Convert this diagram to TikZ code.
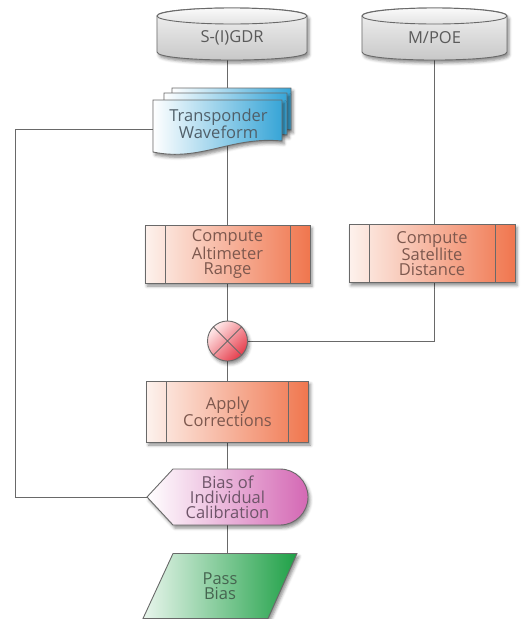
\documentclass[tikz,border=0pt]{standalone}
\usepackage{fontspec}
\setmainfont{Open Sans}
\usetikzlibrary{shapes.geometric,shadows.blur}
\pgfdeclarelayer{lines}
\pgfdeclarelayer{shapes}
\pgfsetlayers{lines,shapes,main}
\definecolor{lineg}{RGB}{105,105,105}
\definecolor{txtg}{RGB}{90,90,90}
\definecolor{txtw}{RGB}{80,95,105}
\definecolor{txtp}{RGB}{110,85,105}
\definecolor{txtgr}{RGB}{70,100,80}
\definecolor{txtb}{RGB}{125,88,78}
\definecolor{orng}{RGB}{240,118,78}
\definecolor{orngl}{RGB}{253,242,237}
\definecolor{blu}{RGB}{55,165,215}
\definecolor{pnk}{RGB}{212,104,180}
\definecolor{grn}{RGB}{30,160,70}
\definecolor{redc}{RGB}{230,60,75}
\tikzset{
  lbl/.style={align=center, text=txtg, inner sep=0pt, font=\fontsize{16.5}{15}\selectfont},
  shd/.style={blur shadow={shadow xshift=2pt, shadow yshift=-3pt, shadow blur radius=3pt, shadow opacity=45}},
  outl/.style={draw=lineg, line width=0.9pt},
  conn/.style={draw=lineg, line width=1pt},
  cyl/.style={outl, shd, top color=gray!8, bottom color=gray!45},
  procbox/.style={rectangle, outl, shd, left color=orngl, right color=orng,
    minimum height=58pt, align=center, text=txtb, inner sep=0pt,
    font=\fontsize{16.5}{15}\selectfont,
    path picture={
      \draw[lineg, line width=0.8pt] ([xshift=20pt]path picture bounding box.north west) -- ([xshift=20pt]path picture bounding box.south west);
      \draw[lineg, line width=0.8pt] ([xshift=-20pt]path picture bounding box.north east) -- ([xshift=-20pt]path picture bounding box.south east);
    }},
  docpage/.style={outl, left color=white, right color=blu},
}
\begin{document}
\begin{tikzpicture}[x=1pt, y=-1pt]
\useasboundingbox (0,0) rectangle (521,619);

% ---- nodes ----
\node[lbl, minimum width=150pt, minimum height=44pt] (sgdr) at (232,38) {S-(I)GDR};
\node[lbl, minimum width=145pt, minimum height=44pt] (mpoe) at (434.5,38) {M/POE};
\node[lbl, text=txtw, minimum width=129pt, minimum height=52pt] (wave) at (218.5,124) {Transponder\\Waveform};
\node[procbox, minimum width=165pt] (alt) at (227.5,254) {Compute\\Altimeter\\Range};
\node[procbox, minimum width=166pt] (sat) at (432,253.5) {Compute\\Satellite\\Distance};
\node[circle, outl, shd, minimum size=40pt, inner sep=0pt,
      top color=red!8, bottom color=redc, shading angle=45] (sum) at (227.5,341) {};
\draw[lineg, line width=0.8pt] (sum.north east) -- (sum.south west) (sum.north west) -- (sum.south east);
\node[procbox, minimum width=162pt, minimum height=61pt] (app) at (227.5,411.5) {Apply\\Corrections};
\node[lbl, text=txtp, minimum width=161pt, minimum height=56pt] (bias) at (227.5,497) {Bias of\\Individual\\Calibration};
\node[lbl, text=txtgr, minimum width=124pt, minimum height=65pt] (pass) at (220,586) {Pass\\Bias};

% ---- shapes ----
\begin{pgfonlayer}{shapes}
  \foreach \n/\hw in {sgdr/75, mpoe/72.5}{
    \begin{scope}[shift={(\n.center)}]
      \path[cyl] (-\hw,-22) -- (-\hw,14) .. controls (-\hw,24.7) and (\hw,24.7) .. (\hw,14)
        -- (\hw,-22) .. controls (\hw,-32.7) and (-\hw,-32.7) .. (-\hw,-22) -- cycle;
      \path[outl, top color=gray!4, bottom color=gray!22] (0,-22) ellipse [x radius=\hw pt, y radius=8pt];
    \end{scope}
  }
  \begin{scope}[shift={(wave.center)}]
    \path[docpage, shd] (-46.5,-36) -- (72.5,-36) -- (72.5,6) .. controls (40,2) and (0,20) .. (-46.5,10) -- cycle;
    \path[docpage, shd] (-54.5,-31) -- (68.5,-31) -- (68.5,11) .. controls (30,7) and (0,25) .. (-54.5,15) -- cycle;
    \path[docpage, shd] (-65.5,-24) -- (63.5,-24) -- (63.5,17) .. controls (12.5,12) and (-17.5,38) .. (-65.5,28) -- cycle;
  \end{scope}
  \begin{scope}[shift={(bias.center)}]
    \path[outl, shd, left color=white, right color=pnk] (-80.5,0) -- (-54.5,-28) -- (52.5,-28)
      arc[start angle=90, end angle=-90, radius=28pt] -- (-54.5,28) -- cycle;
  \end{scope}
  \begin{scope}[shift={(pass.center)}]
    \path[outl, shd, left color=white!90!grn, right color=grn] (-47,-32.5) -- (77,-32.5) -- (48,32.5) -- (-77,32.5) -- cycle;
  \end{scope}
\end{pgfonlayer}

% ---- connectors ----
\coordinate (fb) at (15,497);
\begin{pgfonlayer}{lines}
  \draw[conn] (sgdr.south -| alt.north) -- (alt.north);
  \draw[conn] (mpoe.south) -- (mpoe.south |- sat.north);
  \draw[conn] (alt.south) -- (sum.north);
  \draw[conn] (mpoe.south |- sat.south) |- (sum.east);
  \draw[conn] (sum.south) -- (app.north);
  \draw[conn] (app.south) -- (bias.north);
  \draw[conn] (bias.south) -- (bias.south |- pass.north);
  \draw[conn] (bias.west) -- (fb) |- ([yshift=-5pt]wave.west);
\end{pgfonlayer}
\end{tikzpicture}
\end{document}
